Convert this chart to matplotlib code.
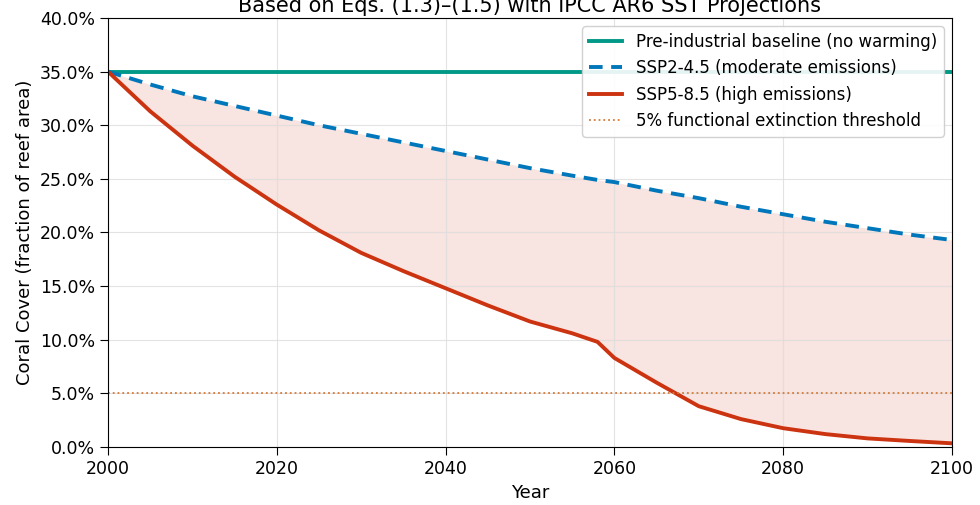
import numpy as np
import matplotlib
matplotlib.use("Agg")
import matplotlib.pyplot as plt
from matplotlib.ticker import PercentFormatter

# years shared by both scenarios (2058 = kink in the SSP5-8.5 curve)
years = [2000, 2005, 2010, 2015, 2020, 2025, 2030, 2035, 2040, 2045, 2050,
         2055, 2058, 2060, 2065, 2070, 2075, 2080, 2085, 2090, 2095, 2100]

baseline = 0.35
threshold = 0.05

# coral cover fraction
ssp245 = [0.350, 0.338, 0.327, 0.318, 0.309, 0.300, 0.292, 0.284, 0.276, 0.268, 0.260,
          0.253, 0.249, 0.247, 0.239, 0.232, 0.224, 0.217, 0.210, 0.204, 0.198, 0.193]
ssp585 = [0.350, 0.313, 0.281, 0.252, 0.226, 0.202, 0.181, 0.164, 0.148, 0.132, 0.117,
          0.106, 0.098, 0.083, 0.060, 0.038, 0.026, 0.0175, 0.012, 0.008, 0.0056, 0.0034]

fig = plt.figure(figsize=(9.8, 5.05), dpi=100)
ax = fig.add_axes([0.1102, 0.1149, 0.8612, 0.8495])

ax.fill_between(years, ssp585, ssp245, color="#CC3311", alpha=0.13, linewidth=0)
ax.axhline(baseline, color="#009988", lw=2.8, label="Pre-industrial baseline (no warming)")
ax.plot(years, ssp245, color="#0077BB", lw=2.8, ls="--", dashes=(3.5, 2.2),
        label="SSP2-4.5 (moderate emissions)")
ax.plot(years, ssp585, color="#CC3311", lw=2.8, label="SSP5-8.5 (high emissions)")
ax.axhline(threshold, color="#D47A3A", lw=1.3, ls=":", label="5% functional extinction threshold")

ax.set_xlim(2000, 2100)
ax.set_ylim(0, 0.40)
ax.set_yticks(np.arange(0, 0.401, 0.05))
ax.yaxis.set_major_formatter(PercentFormatter(1.0, decimals=1))
ax.tick_params(labelsize=12.5, length=6)
ax.grid(True, color="#dddddd", lw=0.8, alpha=0.8)

ax.set_xlabel("Year", fontsize=13)
ax.set_ylabel("Coral Cover (fraction of reef area)", fontsize=13)
ax.set_title("Based on Eqs. (1.3)–(1.5) with IPCC AR6 SST Projections", fontsize=15, pad=4)

ax.legend(loc="upper right", fontsize=12, framealpha=0.9)

fig.savefig("out.png", dpi=100)
